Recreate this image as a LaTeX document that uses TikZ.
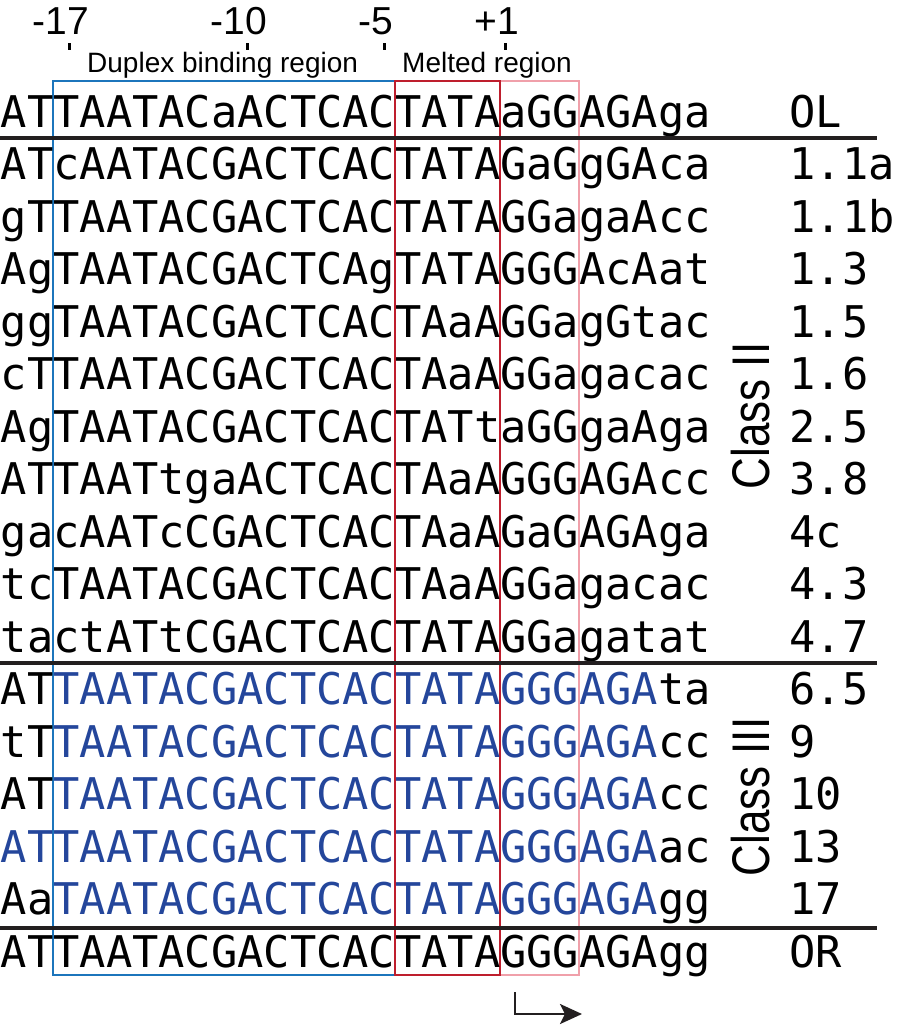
\documentclass[tikz,border=0pt]{standalone}
\usepackage{fontspec}
\setmainfont{Liberation Sans}
\newfontfamily\seqfont{DejaVu Sans Mono}
\usetikzlibrary{arrows.meta}

\definecolor{seqblue}{RGB}{36,70,155}
\definecolor{boxblue}{RGB}{28,117,188}
\definecolor{boxred}{RGB}{190,30,45}
\definecolor{boxpink}{RGB}{240,160,170}
\definecolor{rulegray}{RGB}{35,31,32}

\newcommand{\bl}[1]{\textcolor{seqblue}{#1}}

\begin{document}
\begin{tikzpicture}[x=1pt,y=-1pt,
  seq/.style={anchor=base west,inner sep=0pt,font=\seqfont\fontsize{43.67}{50}\selectfont},
  poslab/.style={anchor=base,inner sep=0pt,xshift=-8pt,yshift=8pt,font=\fontsize{39}{44}\selectfont},
  reglab/.style={anchor=base west,inner sep=0pt,font=\fontsize{28}{32}\selectfont},
  cls/.style={rotate=90,anchor=base,inner sep=0pt,font=\fontsize{53}{60}\selectfont},
  tick/.style={line width=3pt},
  rule/.style={rulegray,line width=3.5pt},
  region/.style={line width=2pt}]

\useasboundingbox (0,0) rectangle (920,1025);

% position ticks
\draw[tick] (69,50) -- (69,43) node[poslab] (p17) {-17};
\draw[tick] (247,50) -- (247,43) node[poslab] (p10) {-10};
\draw[tick] (384,50) -- (384,43) node[poslab] (p5) {-5};
\draw[tick] (505,50) -- (505,43) node[poslab] (p1) {+1};

\node[reglab] (duplex) at (87,73) {Duplex binding region};
\node[reglab] (melted) at (402,73) {Melted region};

% regions
\draw[region,boxpink] (500.2,80.5) rectangle (579,975);
\draw[region,boxblue] (53.3,80.5) rectangle (395,975);
\draw[region,boxred] (395,80.5) rectangle (500.2,975);

% sequences
\node[seq] (row0) at (0.7,127) {ATTAATACaACTCACTATAaGGAGAga};
\node[seq] (row1) at (0.7,179.5) {ATcAATACGACTCACTATAGaGgGAca};
\node[seq] (row2) at (0.7,232) {gTTAATACGACTCACTATAGGagaAcc};
\node[seq] (row3) at (0.7,284.5) {AgTAATACGACTCAgTATAGGGAcAat};
\node[seq] (row4) at (0.7,337) {ggTAATACGACTCACTAaAGGagGtac};
\node[seq] (row5) at (0.7,389.5) {cTTAATACGACTCACTAaAGGagacac};
\node[seq] (row6) at (0.7,442) {AgTAATACGACTCACTATtaGGgaAga};
\node[seq] (row7) at (0.7,494.5) {ATTAATtgaACTCACTAaAGGGAGAcc};
\node[seq] (row8) at (0.7,547) {gacAATcCGACTCACTAaAGaGAGAga};
\node[seq] (row9) at (0.7,599.5) {tcTAATACGACTCACTAaAGGagacac};
\node[seq] (row10) at (0.7,652) {tactATtCGACTCACTATAGGagatat};
\node[seq] (row11) at (0.7,704.5) {AT\bl{TAATACGACTCACTATAGGGAGA}ta};
\node[seq] (row12) at (0.7,757) {tT\bl{TAATACGACTCACTATAGGGAGA}cc};
\node[seq] (row13) at (0.7,809.5) {AT\bl{TAATACGACTCACTATAGGGAGA}cc};
\node[seq] (row14) at (0.7,862) {\bl{ATTAATACGACTCACTATAGGGAGA}ac};
\node[seq] (row15) at (0.7,914.5) {Aa\bl{TAATACGACTCACTATAGGGAGA}gg};
\node[seq] (row16) at (0.7,967) {ATTAATACGACTCACTATAGGGAGAgg};

% clone names
\node[seq] (id0) at (789.4,127) {OL};
\node[seq] (id1) at (789.4,179.5) {1.1a};
\node[seq] (id2) at (789.4,232) {1.1b};
\node[seq] (id3) at (789.4,284.5) {1.3};
\node[seq] (id4) at (789.4,337) {1.5};
\node[seq] (id5) at (789.4,389.5) {1.6};
\node[seq] (id6) at (789.4,442) {2.5};
\node[seq] (id7) at (789.4,494.5) {3.8};
\node[seq] (id8) at (789.4,547) {4c};
\node[seq] (id9) at (789.4,599.5) {4.3};
\node[seq] (id10) at (789.4,652) {4.7};
\node[seq] (id11) at (789.4,704.5) {6.5};
\node[seq] (id12) at (789.4,757) {9};
\node[seq] (id13) at (789.4,809.5) {10};
\node[seq] (id14) at (789.4,862) {13};
\node[seq] (id15) at (789.4,914.5) {17};
\node[seq] (id16) at (789.4,967) {OR};

\node[cls] (classII) at (769,416) {\scalebox{0.83}[1]{Class II}};
\node[cls] (classIII) at (769,797) {\scalebox{0.83}[1]{Class III}};

% separators
\draw[rule] (0,138) -- (877,138);
\draw[rule] (0,663) -- (877,663);
\draw[rule] (0,928) -- (877,928);

% start site
\coordinate (tss) at (515,992);
\coordinate (tssend) at (582,1014);
\draw[line width=2.8pt,rulegray,-{Stealth[length=22pt,width=20pt,inset=5pt]}] (tss) |- (tssend);

\end{tikzpicture}
\end{document}
